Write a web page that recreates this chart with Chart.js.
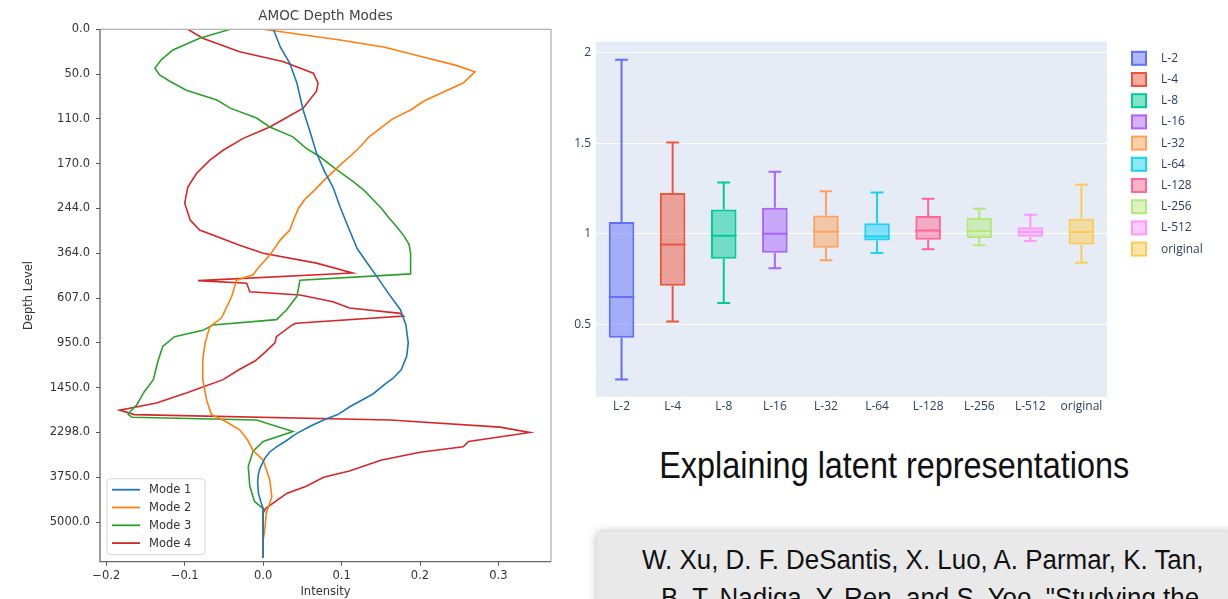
<!DOCTYPE html>
<html>
<head>
<meta charset="utf-8">
<script src="https://cdn.jsdelivr.net/npm/chart.js@4.4.1/dist/chart.umd.min.js"></script>
<style>
  html, body { margin: 0; padding: 0; background: #fff; }
  body { width: 1228px; height: 599px; position: relative; overflow: hidden; }
  #modesWrap { position: absolute; left: 0; top: 0; width: 560px; height: 599px; }
  #boxWrap { position: absolute; left: 560px; top: 0; width: 668px; height: 430px; }
  #heading {
    position: absolute; left: 560px; top: 445px; width: 668px; text-align: center;
    font-family: "Liberation Sans Narrow", "Arial Narrow", "Liberation Sans", sans-serif;
    font-size: 36px; color: #111; white-space: nowrap;
    transform: scaleX(0.9); transform-origin: 336px 0;
  }
  #cite {
    position: absolute; left: 597px; top: 532px; width: 640px; height: 90px;
    background: #e9e9e9; box-shadow: 0 0 9px rgba(0,0,0,0.28);
    font-family: "Liberation Sans Narrow", "Arial Narrow", "Liberation Sans", sans-serif;
    font-size: 27px; color: #111; white-space: nowrap;
  }
  #cite div { position: absolute; transform: scaleX(0.96); transform-origin: 0 0; }
</style>
</head>
<body>
<div id="modesWrap"><canvas id="modesChart" width="560" height="599"></canvas></div>
<div id="boxWrap"><canvas id="boxChart" width="668" height="430"></canvas></div>
<div id="heading">Explaining latent representations</div>
<div id="cite">
  <div style="left:45px; top:13px;">W. Xu, D. F. DeSantis, X. Luo, A. Parmar, K. Tan,</div>
  <div style="left:64px; top:51px;">B. T. Nadiga, Y. Ren, and S. Yoo, "Studying the</div>
</div>
<script>
// ---- left chart: AMOC depth modes ----
const depthTickLevels = [0, 5, 10, 15, 20, 25, 30, 35, 40, 45, 50, 55];
const depthLabels = ['0.0', '50.0', '110.0', '170.0', '244.0', '364.0', '607.0', '950.0', '1450.0', '2298.0', '3750.0', '5000.0'];
const intensityTicks = [-0.2, -0.1, 0.0, 0.1, 0.2, 0.3];
const modeNames = ['Mode 1', 'Mode 2', 'Mode 3', 'Mode 4'];
const modeColors = ['#1f77b4', '#ff7f0e', '#2ca02c', '#d62728'];

// [intensity, depth level]
const mode1 = [[0.013,0],[0.022,2],[0.034,3.8],[0.043,6],[0.051,9],[0.06,11.5],[0.068,13.8],[0.079,16],[0.089,17.6],
  [0.098,19.8],[0.11,22.4],[0.12,24.5],[0.132,26],[0.145,27.6],[0.16,29.5],[0.175,31.3],[0.182,33],[0.185,35],
  [0.183,36.5],[0.176,38],[0.165,39],[0.157,39.5],[0.14,40.7],[0.111,42.1],[0.095,43],[0.077,43.6],[0.06,44.3],
  [0.043,45.1],[0.028,46],[0.017,46.6],[0.008,47.2],[0.002,47.9],[-0.004,49],[-0.006,49.6],[-0.007,50.5],
  [-0.006,51.8],[-0.003,52.7],[0,53.5],[0,59]];
const mode2 = [[0,0],[0.05,0.6],[0.098,1.2],[0.155,2],[0.2,3],[0.245,4],[0.27,4.75],[0.255,6],[0.23,7],[0.205,8],
  [0.188,9],[0.165,10],[0.15,11],[0.135,12],[0.125,13],[0.113,14],[0.1,15],[0.088,16],[0.076,17],[0.065,18],
  [0.053,19],[0.045,20],[0.04,21],[0.034,22.4],[0.022,23.5],[0.0085,25.2],[-0.005,26.5],[-0.013,27.4],
  [-0.034,28],[-0.04,29.8],[-0.053,32.2],[-0.068,33.2],[-0.074,35],[-0.077,36.9],[-0.077,39.1],[-0.072,41.4],
  [-0.066,43],[-0.047,43.8],[-0.03,44.7],[-0.02,45.8],[-0.013,47],[0,48.1],[0.0085,50.3],[0.011,52.2],
  [0.004,54],[0.002,55.9],[0,57],[0,59]];
const mode3 = [[-0.042,0],[-0.081,1],[-0.115,2.3],[-0.13,3.4],[-0.138,4.35],[-0.132,5.1],[-0.119,5.8],[-0.098,6.8],
  [-0.059,7.9],[-0.042,8.8],[-0.0085,9.9],[0.0085,10.9],[0.038,12],[0.055,13.3],[0.072,14.2],[0.094,15.7],
  [0.115,17],[0.129,18],[0.14,19],[0.151,20],[0.16,21],[0.17,22],[0.179,23],[0.186,24],[0.188,25],[0.188,27.3],
  [0.047,28],[0.043,29.8],[0.03,31.3],[0.017,32.4],[-0.064,33],[-0.077,33.6],[-0.113,34.3],[-0.128,35.4],
  [-0.134,37],[-0.14,39.1],[-0.152,40.5],[-0.161,41.9],[-0.17,42.7],[-0.172,43],[-0.167,43.3],[-0.0085,43.6],
  [0.038,44.9],[0,46],[-0.013,47.1],[-0.019,48.8],[-0.017,51],[-0.011,52.7],[0,53.5],[0,59]];
const mode4 = [[-0.096,0],[-0.077,1],[-0.03,2.5],[0.025,3.6],[0.064,4.9],[0.07,6],[0.068,6.9],[0.051,8.8],
  [0.025,10.1],[0.0085,10.9],[-0.026,12.2],[-0.051,13.5],[-0.068,14.6],[-0.085,16.1],[-0.096,17.6],[-0.1,19.4],
  [-0.093,21.3],[-0.081,22.4],[-0.03,24.1],[0,25],[0.068,26.1],[0.114,27.2],[-0.083,28.05],[-0.021,28.35],
  [-0.017,29.3],[0.047,29.65],[0.089,30.4],[0.11,31.1],[0.175,31.7],[0.179,32],[0.042,32.8],[0.037,33],
  [0.017,34.3],[0.015,35],[0.003,36],[-0.01,37],[-0.031,38],[-0.051,39.1],[-0.098,40.6],[-0.136,41.7],
  [-0.183,42.5],[-0.164,43],[0.162,43.6],[0.302,44.4],[0.34,45],[0.262,46],[0.255,46.6],[0.2,47.2],[0.15,48.1],
  [0.11,49.3],[0.077,50],[0.055,51],[0.03,51.8],[0.003,53.5],[0,54],[0,59]];

const mplFont = 'DejaVu Sans';

// spines, title and in-axes legend, matplotlib style
const mplDecor = {
  id: 'mplDecor',
  afterDraw(chart) {
    const { ctx, chartArea: ca } = chart;
    ctx.save();
    ctx.lineWidth = 1.3;
    ctx.strokeStyle = '#b3b3b3';
    ctx.beginPath();
    ctx.moveTo(ca.left, ca.top); ctx.lineTo(ca.right, ca.top); ctx.lineTo(ca.right, ca.bottom);
    ctx.stroke();
    ctx.strokeStyle = '#666';
    ctx.beginPath();
    ctx.moveTo(ca.left, ca.top); ctx.lineTo(ca.left, ca.bottom); ctx.lineTo(ca.right, ca.bottom);
    ctx.stroke();

    ctx.fillStyle = '#444';
    ctx.font = '13.5px "' + mplFont + '"';
    ctx.textAlign = 'center';
    ctx.textBaseline = 'middle';
    ctx.fillText('AMOC Depth Modes', (ca.left + ca.right) / 2, 16);

    // legend
    const x0 = ca.left + 7, y0 = ca.bottom - 83, w = 98, h = 76;
    ctx.fillStyle = 'rgba(255,255,255,0.85)';
    ctx.strokeStyle = '#d6d6d6';
    ctx.lineWidth = 1;
    ctx.beginPath();
    ctx.roundRect(x0, y0, w, h, 3);
    ctx.fill(); ctx.stroke();
    ctx.font = '11.5px "' + mplFont + '"';
    ctx.textAlign = 'left';
    chart.data.datasets.forEach((ds, k) => {
      const y = y0 + 11 + k * 17.8;
      ctx.strokeStyle = ds.borderColor;
      ctx.lineWidth = 1.8;
      ctx.beginPath(); ctx.moveTo(x0 + 5, y); ctx.lineTo(x0 + 33, y); ctx.stroke();
      ctx.fillStyle = '#333';
      ctx.fillText(ds.label, x0 + 42, y + 0.5);
    });
    ctx.restore();
  }
};

new Chart(document.getElementById('modesChart'), {
  type: 'scatter',
  data: {
    datasets: [mode1, mode2, mode3, mode4].map((m, k) => ({
      label: modeNames[k],
      data: m.map(p => ({ x: p[0], y: p[1] })),
      showLine: true,
      borderColor: modeColors[k],
      backgroundColor: modeColors[k],
      borderWidth: 1.6,
      pointRadius: 0,
      tension: 0
    }))
  },
  options: {
    responsive: false,
    animation: false,
    layout: { padding: { top: 29.3, right: 9, bottom: 0, left: 0 } },
    plugins: { legend: { display: false }, tooltip: { enabled: false } },
    scales: {
      x: {
        type: 'linear', min: -0.208, max: 0.367,
        afterBuildTicks: s => { s.ticks = intensityTicks.map(v => ({ value: v })); },
        afterFit: s => { s.height = 37.3; },
        ticks: {
          autoSkip: false, maxRotation: 0, padding: 3, color: '#333',
          font: { family: mplFont, size: 11.5 },
          callback: v => v.toFixed(1).replace('-', '\u2212')
        },
        grid: { display: true, drawOnChartArea: false, drawTicks: true, tickLength: 4, tickColor: '#555' },
        border: { display: false },
        title: { display: true, text: 'Intensity', color: '#333', font: { family: mplFont, size: 11.5 }, padding: { top: 0, bottom: 0 } }
      },
      y: {
        type: 'linear', min: 0, max: 59.42, reverse: true,
        afterBuildTicks: s => { s.ticks = depthTickLevels.map(v => ({ value: v })); },
        afterFit: s => { s.width = 100; },
        ticks: {
          autoSkip: false, padding: 6, color: '#333',
          font: { family: mplFont, size: 11.5 },
          callback: (v, i) => depthLabels[i]
        },
        grid: { display: true, drawOnChartArea: false, drawTicks: true, tickLength: 4, tickColor: '#555' },
        border: { display: false },
        title: { display: true, text: 'Depth Level', color: '#333', font: { family: mplFont, size: 11.5 }, padding: { top: 22, bottom: 0 } }
      }
    }
  },
  plugins: [mplDecor]
});

// ---- right chart: box plot of latent sizes ----
const models = ['L-2', 'L-4', 'L-8', 'L-16', 'L-32', 'L-64', 'L-128', 'L-256', 'L-512', 'original'];
const whiskerLow  = [0.195, 0.515, 0.618, 0.809, 0.853, 0.893, 0.914, 0.936, 0.960, 0.840];
const quartile1   = [0.426, 0.713, 0.862, 0.895, 0.923, 0.963, 0.967, 0.976, 0.983, 0.941];
const medians     = [0.651, 0.941, 0.989, 1.000, 1.011, 0.985, 1.018, 1.015, 1.009, 1.009];
const quartile3   = [1.064, 1.224, 1.134, 1.143, 1.101, 1.057, 1.097, 1.086, 1.035, 1.083];
const whiskerHigh = [1.960, 1.504, 1.283, 1.342, 1.235, 1.228, 1.193, 1.138, 1.105, 1.270];
const yTicks = [0.5, 1, 1.5, 2];
const boxColors = ['#636EFA', '#EF553B', '#00CC96', '#AB63FA', '#FFA15A', '#19D3F3', '#FF6692', '#B6E880', '#FF97FF', '#FECB52'];

function withAlpha(hex, a) {
  const n = parseInt(hex.slice(1), 16);
  return `rgba(${n >> 16}, ${(n >> 8) & 255}, ${n & 255}, ${a})`;
}

const plotlyFont = 'Open Sans';
const plotlyText = '#2a3f5f';

const plotlyBoxes = {
  id: 'plotlyBoxes',
  beforeDraw(chart) {
    const { ctx, chartArea: ca } = chart;
    ctx.save();
    ctx.fillStyle = '#E5ECF6';
    ctx.fillRect(ca.left, ca.top, ca.right - ca.left, ca.bottom - ca.top);
    ctx.restore();
  },
  afterDatasetsDraw(chart) {
    const { ctx, scales: { y } } = chart;
    ctx.save();
    ctx.lineWidth = 2;
    models.forEach((m, i) => {
      const bar = chart.getDatasetMeta(i).data[i];
      const cx = bar.x, half = bar.width / 2, cap = half / 2;
      ctx.strokeStyle = boxColors[i];
      ctx.beginPath();
      // median
      const ym = y.getPixelForValue(medians[i]);
      ctx.moveTo(cx - half, ym); ctx.lineTo(cx + half, ym);
      // whiskers
      const yHi = y.getPixelForValue(whiskerHigh[i]), yQ3 = y.getPixelForValue(quartile3[i]);
      const yLo = y.getPixelForValue(whiskerLow[i]), yQ1 = y.getPixelForValue(quartile1[i]);
      ctx.moveTo(cx, yQ3); ctx.lineTo(cx, yHi);
      ctx.moveTo(cx - cap, yHi); ctx.lineTo(cx + cap, yHi);
      ctx.moveTo(cx, yQ1); ctx.lineTo(cx, yLo);
      ctx.moveTo(cx - cap, yLo); ctx.lineTo(cx + cap, yLo);
      ctx.stroke();
    });

    // legend on the right
    ctx.font = '12px "' + plotlyFont + '"';
    ctx.textAlign = 'left';
    ctx.textBaseline = 'middle';
    chart.data.datasets.forEach((ds, k) => {
      const yy = 58.3 + k * 21.2;
      ctx.fillStyle = ds.backgroundColor;
      ctx.strokeStyle = ds.borderColor;
      ctx.lineWidth = 2;
      ctx.fillRect(572, yy - 6.5, 14, 13);
      ctx.strokeRect(572, yy - 6.5, 14, 13);
      ctx.fillStyle = plotlyText;
      ctx.fillText(ds.label, 601, yy);
    });
    ctx.restore();
  }
};

new Chart(document.getElementById('boxChart'), {
  type: 'bar',
  data: {
    labels: models,
    datasets: models.map((m, i) => ({
      label: m,
      data: models.map((_, j) => (j === i ? [quartile1[i], quartile3[i]] : null)),
      backgroundColor: withAlpha(boxColors[i], 0.5),
      borderColor: boxColors[i],
      borderWidth: 2,
      borderSkipped: false,
      grouped: false,
      barPercentage: 0.5,
      categoryPercentage: 1
    }))
  },
  options: {
    responsive: false,
    animation: false,
    layout: { padding: { top: 41.7, right: 121, bottom: 0, left: 0 } },
    plugins: { legend: { display: false }, tooltip: { enabled: false } },
    scales: {
      x: {
        afterFit: s => { s.height = 33.3; },
        ticks: { color: plotlyText, font: { family: plotlyFont, size: 12 }, padding: 3, maxRotation: 0, autoSkip: false },
        grid: { display: false, drawTicks: false },
        border: { display: false }
      },
      y: {
        min: 0.1, max: 2.06,
        afterBuildTicks: s => { s.ticks = yTicks.map(v => ({ value: v })); },
        afterFit: s => { s.width = 36; },
        ticks: { color: plotlyText, font: { family: plotlyFont, size: 12 }, padding: 5, callback: v => String(v) },
        grid: { color: '#ffffff', lineWidth: 1, drawTicks: false },
        border: { display: false }
      }
    }
  },
  plugins: [plotlyBoxes]
});
</script>
</body>
</html>
